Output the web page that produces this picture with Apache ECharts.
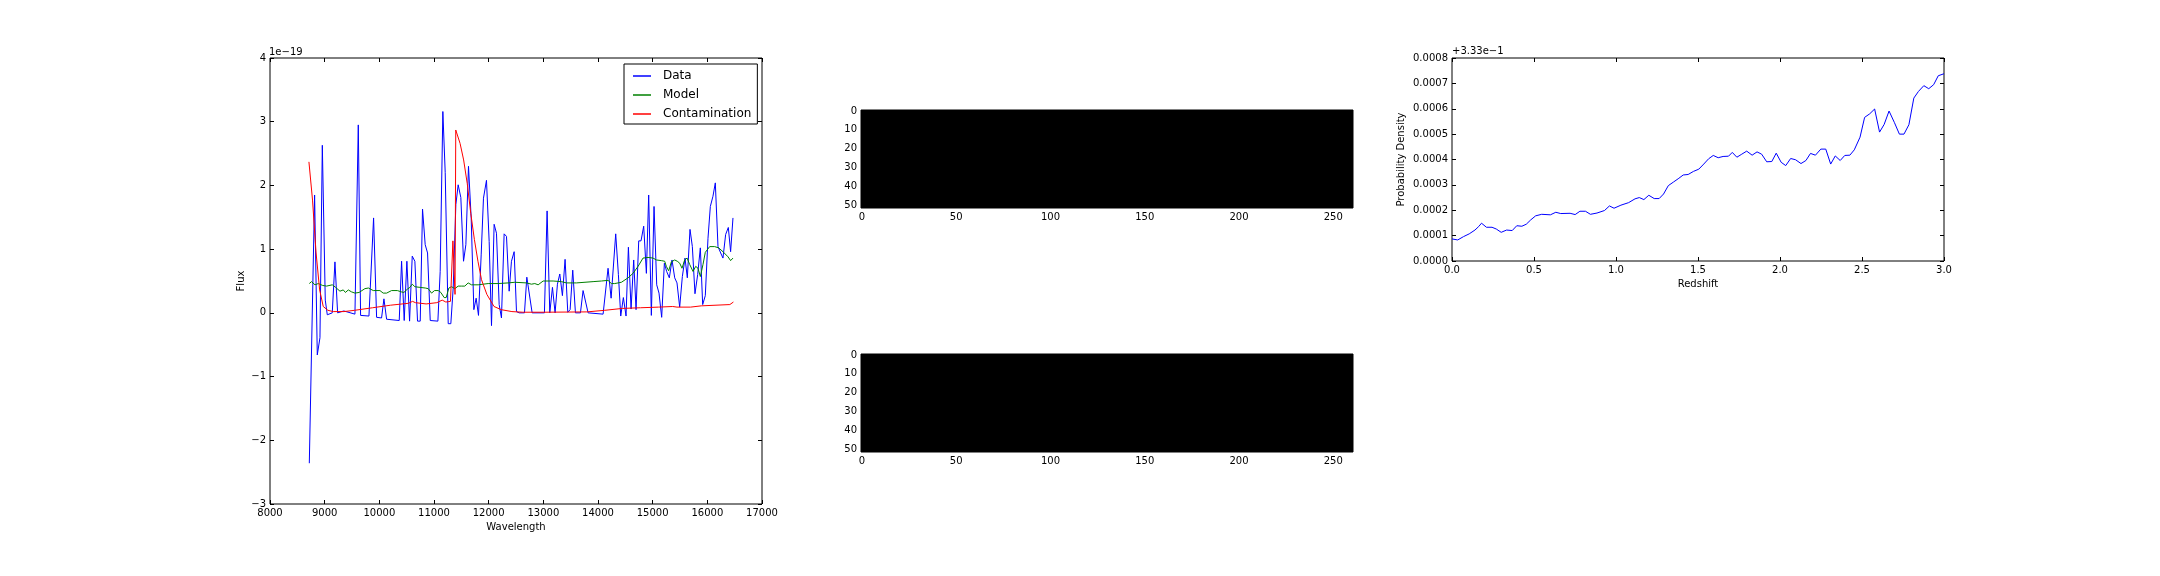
<!DOCTYPE html>
<html>
<head>
<meta charset="utf-8">
<script src="https://cdn.jsdelivr.net/npm/echarts@6/dist/echarts.min.js"></script>
<style>
html,body{margin:0;padding:0;background:#fff;}
#chart{width:2160px;height:576px;}
</style>
</head>
<body>
<div id="chart"></div>
<script>
// ---------- Spectrum panel (flux in units of 1e-19) ----------
const dataWave = [8719,8816,8865,8914,8957,9011,9048,9139,9188,9237,9350,9554,9615,9657,9810,9895,9950,10041,10084,10133,10364,10407,10455,10504,10553,10602,10650,10699,10748,10790,10839,10882,10931,11071,11113,11162,11205,11260,11308,11351,11400,11442,11491,11540,11583,11631,11680,11729,11771,11814,11863,11905,11960,12009,12052,12100,12143,12192,12234,12283,12326,12375,12417,12466,12509,12557,12655,12698,12795,13020,13069,13118,13167,13215,13258,13301,13349,13398,13447,13490,13538,13587,13679,13727,13819,14093,14184,14240,14324,14373,14416,14464,14513,14556,14605,14653,14696,14745,14787,14836,14885,14927,14976,15025,15074,15116,15165,15214,15256,15305,15354,15403,15445,15494,15543,15592,15634,15683,15726,15774,15823,15872,15915,15963,16012,16055,16103,16146,16195,16244,16286,16335,16384,16426,16469];
const dataFlux = [-2.36,1.85,-0.66,-0.39,2.63,0.2,-0.03,0.0,0.80,0.0,0.03,-0.02,2.95,-0.04,-0.05,1.49,-0.07,-0.08,0.22,-0.10,-0.12,0.81,-0.12,0.81,-0.13,0.89,0.81,-0.13,-0.13,1.63,1.07,0.94,-0.12,-0.13,0.65,3.16,2.2,-0.17,-0.17,0.39,1.7,2.01,1.81,0.81,1.07,2.30,1.49,0.05,0.23,-0.04,0.91,1.80,2.08,1.12,-0.20,1.39,1.25,0.13,-0.08,1.24,1.20,0.34,0.81,0.96,0.02,0.0,0.0,0.56,0.0,0.0,1.60,0.0,0.40,0.0,0.45,0.61,0.27,0.84,0.01,0.05,0.67,0.0,0.0,0.35,0.0,-0.02,0.70,0.23,1.24,0.6,-0.05,0.24,-0.05,1.03,0.06,0.83,0.05,1.13,1.13,1.36,0.62,1.85,-0.04,1.67,0.44,0.31,-0.07,0.78,0.65,0.55,0.83,0.55,0.47,0.09,0.57,0.86,0.55,1.31,1.04,0.30,0.60,1.02,0.13,0.27,1.17,1.67,1.83,2.04,1.04,0.94,0.86,1.23,1.34,0.96,1.49];

const modelWave = [8719,8760,8823,8883,8963,9035,9139,9200,9280,9340,9380,9432,9490,9554,9630,9736,9800,9889,10011,10070,10133,10224,10330,10400,10449,10510,10559,10602,10650,10742,10840,10894,10955,11010,11077,11125,11186,11223,11272,11321,11382,11442,11500,11564,11625,11686,11808,11991,12174,12356,12478,12692,12783,12844,12905,12996,13179,13331,13423,13605,13910,14062,14184,14245,14306,14428,14550,14641,14733,14824,14915,15007,15068,15159,15220,15250,15293,15342,15403,15450,15494,15537,15585,15630,15677,15738,15787,15829,15872,15921,15963,16043,16134,16207,16286,16378,16426,16469];
const modelFlux = [0.46,0.49,0.44,0.46,0.43,0.42,0.44,0.40,0.34,0.36,0.32,0.36,0.33,0.31,0.32,0.38,0.39,0.35,0.35,0.31,0.31,0.35,0.35,0.33,0.32,0.37,0.40,0.45,0.41,0.40,0.39,0.38,0.31,0.35,0.35,0.32,0.24,0.24,0.39,0.41,0.38,0.42,0.42,0.42,0.47,0.44,0.44,0.46,0.46,0.47,0.48,0.47,0.45,0.46,0.44,0.50,0.50,0.49,0.47,0.47,0.49,0.50,0.51,0.46,0.46,0.48,0.55,0.62,0.73,0.86,0.87,0.86,0.83,0.82,0.81,0.73,0.66,0.80,0.83,0.81,0.78,0.70,0.83,0.86,0.76,0.65,0.73,0.70,0.57,0.76,0.95,1.04,1.04,1.02,0.96,0.88,0.82,0.86];

const contWave = [8712,8778,8843,8908,8974,9059,9157,9353,9549,9876,10203,10530,10608,10660,10856,11052,11150,11216,11301,11346,11385,11398,11477,11542,11608,11673,11739,11804,11869,11967,12098,12229,12425,12621,13013,13797,14124,14451,14778,15105,15366,15399,15445,15693,15726,15889,16412,16477];
const contFlux = [2.37,1.77,0.94,0.36,0.10,0.04,0.02,0.02,0.04,0.08,0.12,0.15,0.18,0.16,0.14,0.16,0.20,0.17,0.18,1.13,0.29,2.87,2.66,2.40,2.03,1.56,1.15,0.81,0.52,0.29,0.10,0.05,0.02,0.01,0.01,0.015,0.04,0.07,0.08,0.09,0.10,0.13,0.09,0.09,0.08,0.11,0.13,0.17];

const fluxTicks = [-3,-2,-1,0,1,2,3,4];
const waveTicks = [8000,9000,10000,11000,12000,13000,14000,15000,16000,17000];

// ---------- 2D images (all zero -> black) ----------
const imgCols = 261;
const imgRows = 52;
const imgXTicks = [0,50,100,150,200,250];
const imgYTicks = [0,10,20,30,40,50];

// ---------- Redshift PDF (excess over 0.333, in units of 1e-4) ----------
const zGrid = [0,0.035,0.07,0.105,0.14,0.163,0.18,0.21,0.244,0.27,0.30,0.333,0.367,0.395,0.426,0.453,0.48,0.51,0.547,0.6,0.633,0.663,0.72,0.751,0.78,0.814,0.844,0.884,0.93,0.96,0.988,1.03,1.077,1.116,1.142,1.17,1.2,1.233,1.263,1.29,1.319,1.35,1.379,1.41,1.44,1.472,1.505,1.535,1.565,1.593,1.623,1.653,1.686,1.709,1.737,1.767,1.797,1.83,1.86,1.888,1.919,1.95,1.977,2.007,2.035,2.065,2.095,2.128,2.158,2.186,2.216,2.249,2.279,2.309,2.337,2.367,2.395,2.426,2.453,2.488,2.516,2.547,2.577,2.607,2.635,2.665,2.698,2.728,2.756,2.786,2.816,2.844,2.877,2.907,2.937,2.965,3.0];
const pdfExcess = [0.87,0.83,0.96,1.07,1.22,1.36,1.49,1.33,1.33,1.26,1.13,1.22,1.20,1.39,1.37,1.45,1.62,1.78,1.84,1.82,1.92,1.87,1.88,1.83,1.96,1.96,1.84,1.89,1.99,2.17,2.08,2.20,2.30,2.45,2.50,2.42,2.59,2.46,2.46,2.64,2.97,3.11,3.24,3.39,3.41,3.53,3.62,3.82,4.03,4.16,4.07,4.12,4.13,4.28,4.09,4.21,4.33,4.17,4.30,4.21,3.91,3.92,4.25,3.89,3.76,4.04,3.99,3.84,3.96,4.24,4.17,4.41,4.41,3.82,4.14,3.96,4.16,4.17,4.38,4.88,5.66,5.80,5.99,5.08,5.38,5.91,5.45,5.00,5.00,5.37,6.42,6.68,6.91,6.79,6.95,7.30,7.38];
const pdfOffsetLabel = '+3.33e\u22121';
const fluxScaleLabel = '1e\u221219';

// ---------- build chart ----------
const FONT = 'DejaVu Sans';
const minusFmt = v => (v < 0 ? '\u2212' + String(Math.abs(v)) : String(v));

function frameAxis(base, extra) {
  return Object.assign({
    axisLine: {show: false, onZero: false},
    splitLine: {show: false},
    axisTick: {show: true, inside: true, length: 4, lineStyle: {color: '#000', width: 1}},
    axisLabel: {show: false}
  }, base, extra || {});
}
const labelStyle = {color: '#000', fontFamily: FONT, fontSize: 10};

const grids = [
  {left: 270, top: 58, width: 492, height: 446},
  {left: 861, top: 110, width: 492, height: 98},
  {left: 861, top: 354, width: 492, height: 98},
  {left: 1452, top: 58, width: 492, height: 203}
].map(g => Object.assign({show: true, borderColor: '#000', borderWidth: 1, backgroundColor: 'transparent', containLabel: false}, g));

const xAxes = [];
const yAxes = [];

// Spectrum axes
const specX = {type: 'value', min: waveTicks[0], max: waveTicks[waveTicks.length - 1], interval: 1000, gridIndex: 0};
xAxes.push(frameAxis(specX, {position: 'bottom', axisLabel: Object.assign({show: true, margin: 4, formatter: v => String(v)}, labelStyle),
  name: 'Wavelength', nameLocation: 'middle', nameGap: 18, nameTextStyle: labelStyle}));
xAxes.push(frameAxis(specX, {position: 'top'}));
const specY = {type: 'value', min: fluxTicks[0], max: fluxTicks[fluxTicks.length - 1], interval: 1, gridIndex: 0};
yAxes.push(frameAxis(specY, {position: 'left', axisLabel: Object.assign({show: true, margin: 4, formatter: minusFmt}, labelStyle),
  name: 'Flux', nameLocation: 'middle', nameGap: 24, nameTextStyle: labelStyle}));
yAxes.push(frameAxis(specY, {position: 'right'}));

// Image axes
[1, 2].forEach(gi => {
  xAxes.push({type: 'value', gridIndex: gi, min: -0.5, max: imgCols - 0.5, position: 'bottom',
    axisLine: {show: false, onZero: false}, splitLine: {show: false},
    axisTick: {show: false},
    axisLabel: Object.assign({show: true, margin: 4, customValues: imgXTicks, formatter: v => String(v)}, labelStyle)});
  yAxes.push({type: 'value', gridIndex: gi, min: -0.5, max: imgRows - 0.5, inverse: true, position: 'left',
    axisLine: {show: false, onZero: false}, splitLine: {show: false},
    axisTick: {show: false},
    axisLabel: Object.assign({show: true, margin: 4, customValues: imgYTicks, formatter: v => String(v)}, labelStyle)});
});

// PDF axes
const pdfX = {type: 'value', min: 0, max: 3, interval: 0.5, gridIndex: 3};
xAxes.push(frameAxis(pdfX, {position: 'bottom', axisLabel: Object.assign({show: true, margin: 4, formatter: v => v.toFixed(1)}, labelStyle),
  name: 'Redshift', nameLocation: 'middle', nameGap: 18, nameTextStyle: labelStyle}));
xAxes.push(frameAxis(pdfX, {position: 'top'}));
const pdfY = {type: 'value', min: 0, max: 8, interval: 1, gridIndex: 3};
yAxes.push(frameAxis(pdfY, {position: 'left', axisLabel: Object.assign({show: true, margin: 4, formatter: v => (v * 1e-4).toFixed(4)}, labelStyle),
  name: 'Probability Density', nameLocation: 'middle', nameGap: 46, nameTextStyle: labelStyle}));
yAxes.push(frameAxis(pdfY, {position: 'right'}));

function pairs(xs, ys) { return xs.map((x, i) => [x, ys[i]]); }
const lineBase = {type: 'line', symbol: 'none', showSymbol: false, animation: false, clip: true};

const imageRect = (xi, yi) => ({
  type: 'custom', xAxisIndex: xi, yAxisIndex: yi, animation: false, silent: true,
  data: [[-0.5, -0.5, imgCols - 0.5, imgRows - 0.5]],
  renderItem: function (params, api) {
    const p0 = api.coord([api.value(0), api.value(1)]);
    const p1 = api.coord([api.value(2), api.value(3)]);
    return {type: 'rect', shape: {x: Math.min(p0[0], p1[0]), y: Math.min(p0[1], p1[1]),
      width: Math.abs(p1[0] - p0[0]), height: Math.abs(p1[1] - p0[1])}, style: {fill: '#000'}};
  }
});

const option = {
  backgroundColor: '#fff',
  animation: false,
  textStyle: {fontFamily: FONT},
  grid: grids,
  xAxis: xAxes,
  yAxis: yAxes,
  legend: {
    left: 624, top: 64, orient: 'vertical',
    padding: [5, 6, 3, 9], itemGap: 5, itemWidth: 18, itemHeight: 1.5,
    icon: 'rect',
    borderColor: '#000', borderWidth: 1, borderRadius: 0, backgroundColor: '#fff',
    textStyle: {fontSize: 12, fontFamily: FONT, color: '#000', padding: [0, 0, 0, 7], lineHeight: 14},
    data: ['Data', 'Model', 'Contamination']
  },
  graphic: [
    {type: 'text', left: 269, top: 47, style: {text: fluxScaleLabel, font: '10px "DejaVu Sans"', fill: '#000'}},
    {type: 'text', left: 1452, top: 46, style: {text: pdfOffsetLabel, font: '10px "DejaVu Sans"', fill: '#000'}}
  ],
  series: [
    Object.assign({}, lineBase, {name: 'Data', xAxisIndex: 0, yAxisIndex: 0, data: pairs(dataWave, dataFlux), lineStyle: {color: '#0000ff', width: 1}, itemStyle: {color: '#0000ff'}}),
    Object.assign({}, lineBase, {name: 'Model', xAxisIndex: 0, yAxisIndex: 0, data: pairs(modelWave, modelFlux), lineStyle: {color: '#008000', width: 1}, itemStyle: {color: '#008000'}}),
    Object.assign({}, lineBase, {name: 'Contamination', xAxisIndex: 0, yAxisIndex: 0, data: pairs(contWave, contFlux), lineStyle: {color: '#ff0000', width: 1}, itemStyle: {color: '#ff0000'}}),
    imageRect(2, 2),
    imageRect(3, 3),
    Object.assign({}, lineBase, {name: 'pdf', xAxisIndex: 4, yAxisIndex: 4, data: pairs(zGrid, pdfExcess), lineStyle: {color: '#0000ff', width: 1}, itemStyle: {color: '#0000ff'}})
  ]
};

const chart = echarts.init(document.getElementById('chart'), null, {renderer: 'canvas', width: 2160, height: 576});
chart.setOption(option);
</script>
</body>
</html>
